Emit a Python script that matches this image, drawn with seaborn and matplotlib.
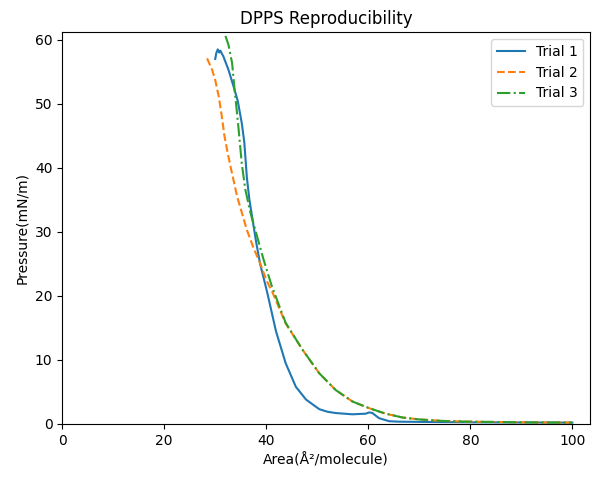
import pandas as pd
import matplotlib
matplotlib.use("Agg")
import matplotlib.pyplot as plt
import seaborn as sns

# Trial 1
x1 = [30.0, 30.2, 30.5, 30.8, 31.0, 31.6, 32.6, 33.6, 34.4, 35.2, 35.7, 36.2, 36.7, 37.2, 38.0,
      38.8, 40.2, 41.9, 43.8, 45.8, 47.8, 50.4, 52.0, 53.6, 56.9, 59.5, 60.2, 60.8, 62.1, 64.1,
      66.0, 72.0, 80.0, 90.0, 100.0]
y1 = [57.0, 57.9, 58.5, 58.0, 58.3, 57.4, 55.3, 52.7, 50.5, 47.0, 44.0, 38.5, 35.0, 32.5, 28.5,
      25.0, 20.5, 14.5, 9.5, 5.8, 3.8, 2.3, 1.9, 1.7, 1.5, 1.6, 1.8, 1.7, 0.9, 0.42,
      0.35, 0.3, 0.25, 0.22, 0.2]

# Trial 2
x2 = [28.4, 29.4, 30.0, 30.7, 31.3, 31.8, 32.4, 33.0, 34.3, 36.2, 37.5, 38.8, 40.0, 41.3, 43.8,
      47.1, 50.4, 53.6, 56.9, 60.2, 63.4, 66.7, 70.0, 75.0, 80.0, 85.0, 90.0, 100.0]
y2 = [57.1, 55.3, 53.7, 51.1, 48.0, 45.0, 42.5, 40.2, 35.5, 30.3, 27.5, 25.1, 22.5, 20.4, 15.7,
      11.6, 7.9, 5.3, 3.5, 2.45, 1.6, 1.0, 0.7, 0.45, 0.35, 0.3, 0.25, 0.2]

# Trial 3
x3 = [32.0, 32.6, 33.3, 33.8, 34.2, 34.6, 35.2, 35.9, 36.9, 38.2, 39.5, 41.1, 43.8,
      47.1, 50.4, 53.6, 56.9, 60.2, 63.4, 66.7, 70.0, 75.0, 80.0, 85.0, 90.0, 100.0]
y3 = [60.6, 59.2, 56.4, 52.2, 49.1, 45.9, 40.7, 36.6, 33.0, 29.3, 25.6, 21.5, 15.8,
      11.6, 7.9, 5.3, 3.5, 2.45, 1.6, 1.0, 0.7, 0.45, 0.35, 0.3, 0.25, 0.2]

trials = [("Trial 1", x1, y1, "-"), ("Trial 2", x2, y2, "--"), ("Trial 3", x3, y3, "-.")]
colors = ["#1f77b4", "#ff7f0e", "#2ca02c"]

fig, ax = plt.subplots(figsize=(5.92, 4.79), dpi=100)
for (name, xs, ys, ls), c in zip(trials, colors):
    df = pd.DataFrame({"area": xs, "pressure": ys})
    sns.lineplot(data=df, x="area", y="pressure", sort=False, color=c,
                 linestyle=ls, linewidth=1.5, label=name, ax=ax)

ax.set_xlim(0, 103.5)
ax.set_ylim(0, 61.2)
ax.set_title("DPPS Reproducibility")
ax.set_xlabel("Area(Å²/molecule)")
ax.set_ylabel("Pressure(mN/m)")
ax.legend(loc="upper right")
fig.subplots_adjust(left=0.105, right=0.997, top=0.933, bottom=0.115)
fig.savefig("out.png", dpi=100)
